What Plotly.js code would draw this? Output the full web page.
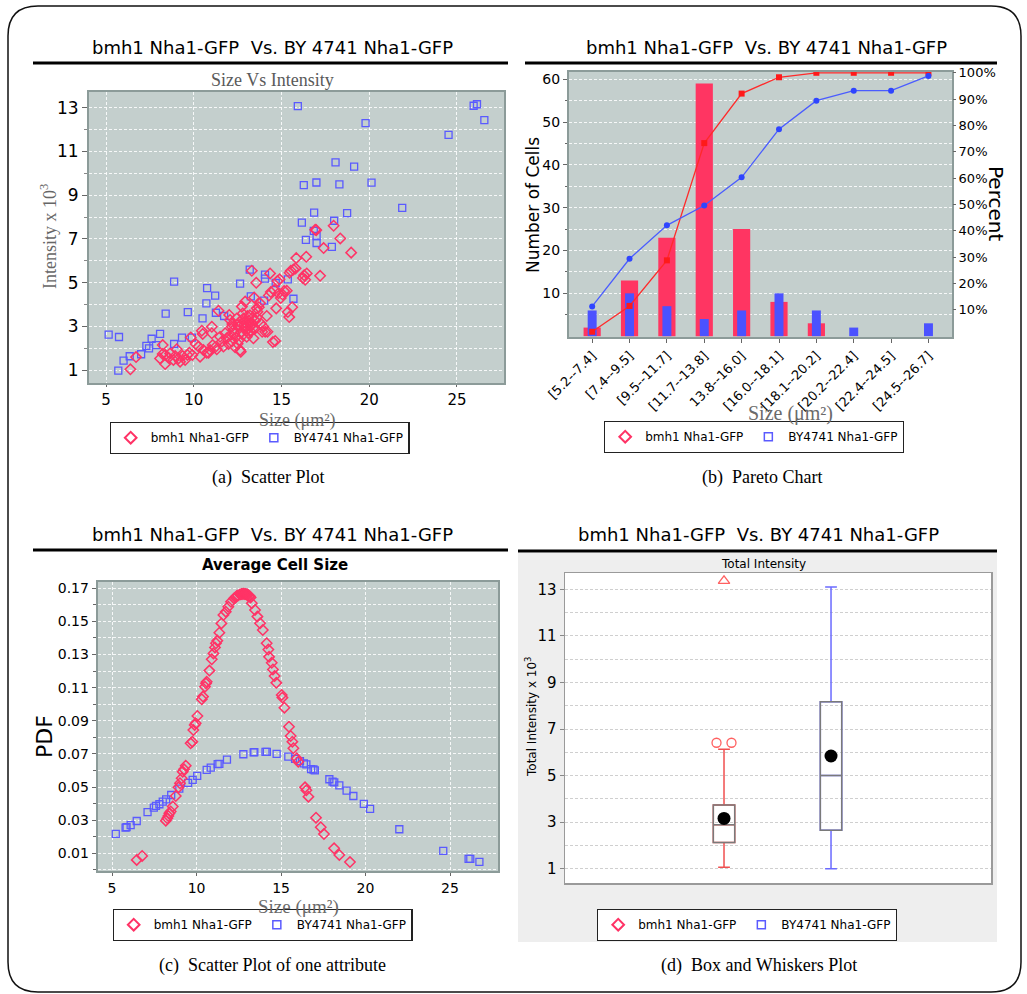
<!DOCTYPE html>
<html><head><meta charset="utf-8">
<script src="https://cdn.plot.ly/plotly-3.0.1.min.js"></script>
<style>body{margin:0;background:#fff}#plot{width:1027px;height:994px}</style>
</head><body><div id="plot"></div>
<script>
// ---------- DATA ----------
const seriesNames = ['bmh1 Nha1-GFP', 'BY4741 Nha1-GFP'];
const headerText = 'bmh1 Nha1-GFP  Vs. BY 4741 Nha1-GFP';

// (a) scatter: size vs intensity (x10^3)
const redSizeA = [6.39,6.71,8.23,8.08,8.23,8.37,8.38,8.56,8.65,8.84,8.94,9.03,9.13,9.22,9.37,9.51,9.64,9.75,9.83,9.92,
 10.11,10.27,10.36,10.46,10.51,10.55,10.74,10.84,10.93,11.03,11.03,11.08,11.22,11.31,11.41,11.5,11.6,11.69,11.79,11.88,
 11.98,12.02,12.07,12.17,12.17,12.26,12.3,12.36,12.45,12.49,12.55,12.6,12.64,12.68,12.74,12.79,12.83,12.87,12.93,12.93,
 12.98,13.02,13.06,13.12,13.17,13.21,13.25,13.31,13.31,13.37,13.4,13.44,13.5,13.56,13.59,13.63,13.71,13.78,13.82,13.9,
 13.97,14.07,14.16,14.2,14.28,14.35,14.39,14.51,14.58,14.64,14.7,14.77,14.83,14.89,14.96,15.06,15.15,15.3,15.36,15.44,
 15.46,15.53,15.61,15.68,15.8,15.84,16.22,16.29,16.35,16.41,16.44,16.92,16.98,17.2,17.4,17.97,18.35,18.97,
 12.1,12.4,12.7,12.9,13.0,13.1,13.3,13.5,12.5,12.2,13.6,12.8,13.2,12.6];
const redIntA = [1.03,1.59,2.14,1.53,1.73,1.27,1.69,1.56,1.76,1.46,1.64,1.95,1.53,1.38,1.64,1.46,1.69,1.79,2.49,1.69,
 2.19,2.07,1.61,2.80,2.65,1.91,1.79,1.79,1.91,2.98,2.68,2.14,2.04,1.95,3.71,2.52,2.30,2.07,2.68,2.45,
 2.19,3.52,3.29,2.98,2.30,2.83,2.68,2.04,3.36,3.06,2.98,2.37,1.91,1.84,3.90,3.59,3.36,3.06,2.91,4.13,
 2.80,2.52,3.47,3.26,3.13,2.98,2.75,5.54,3.36,2.91,2.45,4.32,3.26,4.99,3.82,3.67,3.87,4.05,3.13,2.75,
 2.98,2.75,3.47,2.75,4.41,5.42,4.57,2.28,4.66,2.33,3.82,5.07,4.51,5.15,4.29,4.45,4.61,4.63,3.65,3.42,
 5.45,5.54,3.87,5.60,5.65,6.12,5.21,5.33,5.13,6.18,5.42,7.42,7.40,5.31,6.58,7.6,7.02,6.37,
 2.6,2.5,2.7,3.2,3.0,2.7,3.1,2.9,2.2,3.1,3.4,2.6,3.5,3.2];
const blueSizeA = [5.15,5.74,5.70,6.0,6.35,7.0,7.3,7.45,7.6,7.85,8.08,8.4,8.88,8.88,9.33,9.66,9.89,10.5,10.72,10.76,
 11.22,11.26,11.73,12.64,13.19,13.25,14.01,14.06,14.06,14.67,15.36,15.68,15.93,16.16,16.27,16.39,16.86,16.84,16.99,17.0,
 17.0,17.87,18.0,18.08,18.3,18.74,19.14,19.79,20.13,21.88,24.52,25.95,26.14,26.56];
const blueIntA = [2.62,2.51,0.97,1.43,1.63,1.72,2.10,1.99,2.43,2.14,2.65,3.58,5.04,2.19,2.48,3.65,2.48,3.36,4.05,4.75,
 4.40,3.62,3.47,4.95,5.59,4.37,4.17,5.36,5.18,4.98,5.15,4.26,13.07,7.74,9.46,6.95,8.2,7.37,9.58,7.13,
 6.81,6.63,7.83,10.5,9.49,8.18,10.31,12.3,9.57,8.42,11.76,13.09,13.16,12.43];

// (b) pareto
const sizeBins = ['[5.2--7.4]','[7.4--9.5]','[9.5--11.7]','[11.7--13.8]','13.8--16.0]','[16.0--18.1]','[18.1--20.2]','[20.2--22.4]','[22.4--24.5]','[24.5--26.7]'];
const redCounts = [2,13,23,59,25,8,3,0,0,0];
const blueCounts = [6,10,7,4,6,10,6,2,0,3];
const redCumPct = [1.7,11.5,28.8,73.3,92.1,98.3,100,100,100,100];
const blueCumPct = [11.3,29.4,42.1,49.6,60.3,78.6,89.4,93.2,93.2,98.8];
const pctTicks = [10,20,30,40,50,60,70,80,90,100];
const pctLabels = ['10%','20%','30%','40%','50%','60%','70%','80%','90%','100%'];
const countTicks = [10,20,30,40,50,60];

// (c) pdf of cell size
const redSizeC = [6.46,6.78,8.18,8.27,8.33,8.39,8.47,8.59,8.77,8.93,9.02,9.12,9.18,9.26,9.36,9.65,9.75,9.81,9.89,9.95,
 10.05,10.31,10.38,10.5,10.56,10.6,10.76,10.9,11.0,11.09,11.15,11.23,11.35,11.47,11.59,11.73,11.88,12.04,12.22,12.38,
 12.57,12.77,12.97,13.1,13.27,13.46,13.6,13.76,13.92,14.15,14.25,14.29,14.45,14.52,14.62,14.72,15.04,15.08,15.2,15.47,
 15.57,15.67,15.73,15.93,16.02,16.42,16.5,16.62,17.07,17.35,17.54,18.14,18.45,19.08,
 12.3,12.45,12.65,12.7,12.85,12.9,13.0,13.05,13.15,13.2];
const redPdfC = [0.006,0.0084,0.0297,0.0311,0.0325,0.0341,0.0352,0.0382,0.0446,0.0498,0.0523,0.0553,0.0593,0.0607,0.0629,0.0764,0.0774,0.0844,0.0875,0.0885,
 0.0929,0.103,0.1046,0.1106,0.1126,0.1136,0.1203,0.1271,0.1307,0.1343,0.1368,0.1384,0.1432,0.1488,0.1539,0.1559,0.1589,0.1619,0.1639,0.1653,
 0.1663,0.1667,0.1663,0.165,0.161,0.1569,0.1529,0.1489,0.1448,0.1368,0.133,0.1286,0.125,0.121,0.117,0.1129,0.1056,0.104,0.0979,0.0864,
 0.0808,0.0774,0.0734,0.0673,0.0653,0.0498,0.048,0.0442,0.0315,0.0257,0.0216,0.013,0.009,0.0047,
 0.1645,0.1657,0.1665,0.1666,0.1666,0.1665,0.1662,0.1659,0.1652,0.1645];
const blueSizeC = [5.22,5.8,5.86,6.1,6.46,7.1,7.47,7.6,7.8,8.0,8.2,8.5,8.98,9.5,9.77,10.04,10.6,10.84,11.25,11.35,
 11.8,12.77,13.38,13.42,14.08,14.16,14.74,15.43,15.83,16.12,16.35,16.5,16.78,16.92,17.0,17.86,18.05,18.15,18.45,18.88,
 19.28,19.9,20.27,22.0,24.6,26.1,26.2,26.74];
const bluePdfC = [0.0217,0.0255,0.0258,0.027,0.0295,0.0348,0.0376,0.0386,0.0396,0.0412,0.0426,0.0452,0.049,0.0525,0.0543,0.0567,0.0603,0.0617,0.0638,0.064,
 0.0665,0.0698,0.0709,0.0711,0.0712,0.0712,0.070,0.0684,0.067,0.0657,0.0643,0.0637,0.0608,0.0606,0.0601,0.0547,0.0533,0.0528,0.051,0.0478,
 0.0446,0.0398,0.0368,0.0245,0.0114,0.0066,0.0066,0.0048];

// (d) box and whiskers (total intensity x10^3)
const boxPos = [1, 2];
const boxQ1 = [2.13, 2.65];
const boxMedian = [2.89, 5.0];
const boxQ3 = [3.74, 8.17];
const boxLow = [1.06, 1.0];
const boxHigh = [6.13, 13.1];
const boxMean = [3.16, 5.84];
const redOutlierX = [0.93, 1.07];
const redOutlierY = [6.41, 6.41];
const redFarOutX = [1];
const redFarOutY = [13.36];

// ---------- STYLE ----------
const W = 1027, H = 994;
const PX = v => v / W, PY = v => 1 - v / H;
const RED = '#ff3366', BLUE = '#5a5aff';
const BG = '#c4cfcd';
const GRIDW = 'rgba(255,255,255,0.85)';
const DASH = '3px,2px';
const SANS = 'DejaVu Sans', SERIF = 'Liberation Serif';

const traces = [];
// (a)
traces.push({type:'scatter', mode:'markers', x:blueSizeA, y:blueIntA, xaxis:'x', yaxis:'y', showlegend:false,
  marker:{symbol:'square-open', size:7, color:BLUE, line:{width:1.3}}});
traces.push({type:'scatter', mode:'markers', x:redSizeA, y:redIntA, xaxis:'x', yaxis:'y', showlegend:false,
  marker:{symbol:'diamond-open', size:8, color:RED, line:{width:1.5}}});
// (b)
traces.push({type:'bar', x:sizeBins, y:redCounts, xaxis:'x2', yaxis:'y2', width:0.46, showlegend:false,
  marker:{color:'#ff3562', line:{width:0}}});
traces.push({type:'bar', x:sizeBins, y:blueCounts, xaxis:'x2', yaxis:'y2', width:0.24, showlegend:false,
  marker:{color:'#4b52ff', line:{width:0}}});
traces.push({type:'scatter', mode:'lines+markers', x:sizeBins, y:redCumPct, xaxis:'x2', yaxis:'y3', showlegend:false,
  line:{color:'#ff2a2a', width:1.3}, marker:{symbol:'square', size:6, color:'#ff1a1a'}});
traces.push({type:'scatter', mode:'lines+markers', x:sizeBins, y:blueCumPct, xaxis:'x2', yaxis:'y3', showlegend:false,
  line:{color:'#4a5cff', width:1.3}, marker:{symbol:'circle', size:6, color:'#2f45ff'}});
// (c)
traces.push({type:'scatter', mode:'markers', x:blueSizeC, y:bluePdfC, xaxis:'x3', yaxis:'y4', showlegend:false,
  marker:{symbol:'square-open', size:7, color:BLUE, line:{width:1.3}}});
traces.push({type:'scatter', mode:'markers', x:redSizeC, y:redPdfC, xaxis:'x3', yaxis:'y4', showlegend:false,
  marker:{symbol:'diamond-open', size:8, color:RED, line:{width:1.5}}});
// (d) coloured whiskers, then grey box over them
const boxColors = ['#f05050', '#6b6bff'];
for (let i = 0; i < 2; i++) {
  traces.push({type:'box', x:[boxPos[i]], q1:[boxQ1[i]], median:[boxMedian[i]], q3:[boxQ3[i]],
    lowerfence:[boxLow[i]], upperfence:[boxHigh[i]], width:0.2, whiskerwidth:0.55, boxpoints:false,
    xaxis:'x4', yaxis:'y5', showlegend:false, line:{color:boxColors[i], width:1.5}, fillcolor:'rgba(0,0,0,0)'});
  traces.push({type:'box', x:[boxPos[i]], q1:[boxQ1[i]], median:[boxMedian[i]], q3:[boxQ3[i]],
    lowerfence:[boxQ1[i]], upperfence:[boxQ3[i]], width:0.2, whiskerwidth:0, boxpoints:false,
    xaxis:'x4', yaxis:'y5', showlegend:false, line:{color:'#7a7a7a', width:1.5}, fillcolor:'rgba(255,255,255,0)'});
}
traces.push({type:'scatter', mode:'markers', x:redOutlierX, y:redOutlierY, xaxis:'x4', yaxis:'y5', showlegend:false,
  marker:{symbol:'circle-open', size:9, color:'#ff6060', line:{width:1.3}}});
traces.push({type:'scatter', mode:'markers', x:redFarOutX, y:redFarOutY, xaxis:'x4', yaxis:'y5', showlegend:false,
  marker:{symbol:'triangle-up-open', size:10, color:'#ff6060', line:{width:1.3}}});
traces.push({type:'scatter', mode:'markers', x:boxPos, y:boxMean, xaxis:'x4', yaxis:'y5', showlegend:false,
  marker:{symbol:'circle', size:13, color:'#000'}});

// legend-only entries, one legend per panel
const legendIds = ['legend','legend2','legend3','legend4'];
const legendAxes = [['x','y'],['x2','y2'],['x3','y4'],['x4','y5']];
legendIds.forEach((lg, k) => {
  traces.push({type:'scatter', mode:'markers', x:[null], y:[null], name:seriesNames[0], legend:lg,
    xaxis:legendAxes[k][0], yaxis:legendAxes[k][1], hoverinfo:'skip',
    marker:{symbol:'diamond-open', size:9, color:RED, line:{width:2}}});
  traces.push({type:'scatter', mode:'markers', x:[null], y:[null], name:seriesNames[1], legend:lg,
    xaxis:legendAxes[k][0], yaxis:legendAxes[k][1], hoverinfo:'skip',
    marker:{symbol:'square-open', size:8, color:BLUE, line:{width:1.5}}});
});

function legendAt(cx, cy) {
  return {x:PX(cx), y:PY(cy), xanchor:'center', yanchor:'middle', orientation:'h',
    bgcolor:'#fff', bordercolor:'#222', borderwidth:1.2, font:{family:SANS, size:12, color:'#000'},
    itemwidth:30, tracegroupgap:0};
}

const frame = {showline:true, mirror:true, linecolor:'#8c9b99', linewidth:2, zeroline:false};
const dashGrid = {showgrid:true, gridcolor:GRIDW, griddash:DASH, gridwidth:1};

const layout = {
  width:W, height:H, margin:{l:0, r:0, t:0, b:0},
  paper_bgcolor:'#fff', plot_bgcolor:BG, showlegend:true, barmode:'overlay', boxmode:'overlay',
  font:{family:SANS, color:'#000'},
  legend:legendAt(259.5, 438), legend2:legendAt(754, 437), legend3:legendAt(262.5, 925), legend4:legendAt(747, 925),
  // (a)
  xaxis:Object.assign({domain:[PX(89), PX(504)], range:[4.03, 27.68], anchor:'y', tick0:0, dtick:5,
    ticks:'outside', ticklen:2, tickcolor:'#666', tickfont:{size:15, family:SANS}}, frame, dashGrid),
  yaxis:Object.assign({domain:[PY(383), PY(92)], range:[0.405, 13.72], anchor:'x', tick0:1, dtick:2,
    ticks:'outside', ticklen:5, tickcolor:'#666', tickfont:{size:17, family:SANS},
    minor:{tick0:0, dtick:1, showgrid:true, gridcolor:GRIDW, griddash:DASH, ticks:'outside', ticklen:3, tickcolor:'#888'}}, frame, dashGrid),
  // (b)
  xaxis2:Object.assign({domain:[PX(569), PX(952)], type:'category', categoryorder:'array', categoryarray:sizeBins,
    range:[-0.62, 9.63], anchor:'y2', tickangle:-45, ticks:'outside', ticklen:4, tickcolor:'#666',
    tickfont:{size:13, family:SANS}, showgrid:false}, frame),
  yaxis2:Object.assign({domain:[PY(337), PY(72)], range:[-0.2, 61.7], anchor:'x2', tickmode:'array',
    tickvals:countTicks, ticks:'outside', ticklen:4, tickcolor:'#666', tickfont:{size:14, family:SANS},
    minor:{tickmode:'array', tickvals:[5,15,25,35,45,55], showgrid:true, gridcolor:GRIDW, griddash:DASH, ticks:'outside', ticklen:2}}, frame, dashGrid),
  yaxis3:{overlaying:'y2', side:'right', anchor:'x2', range:[-0.3, 100.3], tickmode:'array',
    tickvals:pctTicks, ticktext:pctLabels, ticks:'outside', ticklen:3, tickcolor:'#666',
    tickfont:{size:13, family:SANS}, showgrid:false, zeroline:false, showline:false},
  // (c)
  xaxis3:Object.assign({domain:[PX(97.7), PX(498)], range:[4.15, 27.84], anchor:'y4', tick0:0, dtick:5,
    ticks:'outside', ticklen:3, tickcolor:'#666', tickfont:{size:14, family:SANS}}, frame, dashGrid),
  yaxis4:Object.assign({domain:[PY(871), PY(582)], range:[-0.0007, 0.1738], anchor:'x3', tick0:0.01, dtick:0.02,
    tickformat:'.2f', ticks:'outside', ticklen:4, tickcolor:'#666', tickfont:{size:14, family:SANS},
    minor:{tick0:0, dtick:0.01, showgrid:true, gridcolor:GRIDW, griddash:DASH, ticks:'outside', ticklen:3}}, frame, dashGrid),
  // (d)
  xaxis4:{domain:[PX(565), PX(991)], range:[-0.486, 3.495], anchor:'y5', showticklabels:false, ticks:'',
    showgrid:false, zeroline:false, showline:true, mirror:true, linecolor:'#9a9a9a', linewidth:1.5},
  yaxis5:{domain:[PY(883), PY(573)], range:[0.386, 13.70], anchor:'x4', tick0:1, dtick:2, ticks:'outside',
    ticklen:4, tickcolor:'#888', tickfont:{size:15, family:SANS}, zeroline:false,
    showline:true, mirror:true, linecolor:'#9a9a9a', linewidth:1.5,
    showgrid:true, gridcolor:'#cfcfcf', griddash:DASH, gridwidth:1,
    minor:{tick0:0, dtick:1, showgrid:true, gridcolor:'#cfcfcf', griddash:DASH}},
  shapes:[], annotations:[]
};

// outer rounded frame
(function(){
  const x0=8, x1=1021, y0=6, y1=992, r=30;
  const P = (x,y) => PX(x) + ',' + PY(y);
  const path = 'M' + P(x0+r,y0) + ' L' + P(x1-r,y0) + ' Q' + P(x1,y0) + ' ' + P(x1,y0+r) +
    ' L' + P(x1,y1-r) + ' Q' + P(x1,y1) + ' ' + P(x1-r,y1) + ' L' + P(x0+r,y1) + ' Q' + P(x0,y1) + ' ' + P(x0,y1-r) +
    ' L' + P(x0,y0+r) + ' Q' + P(x0,y0) + ' ' + P(x0+r,y0) + ' Z';
  layout.shapes.push({type:'path', xref:'paper', yref:'paper', path:path, line:{color:'#111', width:1.5}, layer:'above'});
})();
// header rules
[[33,508,63],[525,997,63],[33,508,550],[518,997,551]].forEach(s => {
  layout.shapes.push({type:'line', xref:'paper', yref:'paper', x0:PX(s[0]), x1:PX(s[1]), y0:PY(s[2]), y1:PY(s[2]),
    line:{color:'#000', width:3}});
});
// panel d light grey panel + white plot area
layout.shapes.push({type:'rect', xref:'paper', yref:'paper', x0:PX(518), x1:PX(997), y0:PY(942), y1:PY(553),
  fillcolor:'#eeeeee', line:{width:0}, layer:'below'});
layout.shapes.push({type:'rect', xref:'x4 domain', yref:'y5 domain', x0:0, x1:1, y0:0, y1:1,
  fillcolor:'#ffffff', line:{width:0}, layer:'below'});

function ann(text, x, y, size, opts) {
  layout.annotations.push(Object.assign({text:text, x:PX(x), y:PY(y), xref:'paper', yref:'paper',
    showarrow:false, xanchor:'center', yanchor:'middle', font:{size:size, family:SANS, color:'#000'}}, opts || {}));
}
// headers
ann(headerText, 272, 47, 18);
ann(headerText, 766, 47, 18);
ann(headerText, 272, 534, 18);
ann(headerText, 758, 534, 18);
// (a)
ann('Size Vs Intensity', 272, 80, 18, {font:{size:18, family:SERIF, color:'#5a5a5a'}});
ann('Intensity x 10<sup>3</sup>', 48, 237, 18, {textangle:-90, font:{size:18, family:SERIF, color:'#666'}});
ann('Size (μm²)', 297, 420, 18, {font:{size:18, family:SERIF, color:'#6a6a6a'}});
ann('(a)  Scatter Plot', 268, 477, 18, {font:{size:18, family:SERIF, color:'#000'}});
// (b)
ann('Number of Cells', 533, 205, 17, {textangle:-90});
ann('Percent', 996, 203, 20, {textangle:90});
ann('Size (μm²)', 790, 414, 20, {font:{size:20, family:SERIF, color:'#6a6a6a'}});
ann('(b)  Pareto Chart', 762, 477, 18, {font:{size:18, family:SERIF, color:'#000'}});
// (c)
ann('<b>Average Cell Size</b>', 275, 565, 15);
ann('PDF', 44, 737, 22, {textangle:-90});
ann('Size (μm²)', 298, 907, 19, {font:{size:19, family:SERIF, color:'#6a6a6a'}});
ann('(c)  Scatter Plot of one attribute', 272, 965, 18, {font:{size:18, family:SERIF, color:'#000'}});
// (d)
ann('Total Intensity', 763, 564, 12);
ann('Total Intensity x 10<sup>3</sup>', 531, 717, 12, {textangle:-90});
ann('(d)  Box and Whiskers Plot', 759, 965, 18, {font:{size:18, family:SERIF, color:'#000'}});

Plotly.newPlot('plot', traces, layout, {staticPlot:true, displayModeBar:false});
</script>
</body></html>
